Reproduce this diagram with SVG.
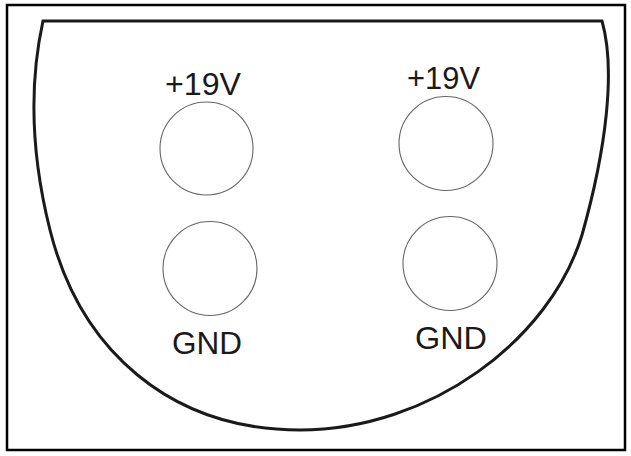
<svg xmlns="http://www.w3.org/2000/svg" width="631" height="456" viewBox="0 0 631 456">
<style>
.frame{fill:#fff;stroke:#000;stroke-width:2.5}
.body{fill:#fff;stroke:#1a1a1a;stroke-width:3;stroke-linejoin:miter}
.jack{fill:#fff;stroke:#666;stroke-width:1.1}
.lbl{font-family:"Liberation Sans",Arial,sans-serif;font-size:32px;fill:#1a1a1a;text-anchor:middle}
</style>
<rect class="frame" x="7" y="5" width="618" height="445"/>
<g id="housing">
<path class="body" d="M43,21 L602,21 C616,70 606,150 582,235 C550,340 430,430 300,430 C170,430 80,350 50,230 C30,150 30,80 43,21 Z"/>
</g>
<g id="jack-left-19v">
<circle class="jack" cx="206.5" cy="148.5" r="46.5"/>
<text class="lbl" x="203" y="95" textLength="76" lengthAdjust="spacingAndGlyphs">+19V</text>
</g>
<g id="jack-left-gnd">
<circle class="jack" cx="210" cy="268.5" r="47"/>
<text class="lbl" x="207" y="354" textLength="70" lengthAdjust="spacingAndGlyphs">GND</text>
</g>
<g id="jack-right-19v">
<circle class="jack" cx="446" cy="143.5" r="47"/>
<text class="lbl" x="443.5" y="89" textLength="73" lengthAdjust="spacingAndGlyphs">+19V</text>
</g>
<g id="jack-right-gnd">
<circle class="jack" cx="450" cy="263.5" r="47"/>
<text class="lbl" x="451" y="349" textLength="72" lengthAdjust="spacingAndGlyphs">GND</text>
</g>
<g id="connectors"/>
</svg>
